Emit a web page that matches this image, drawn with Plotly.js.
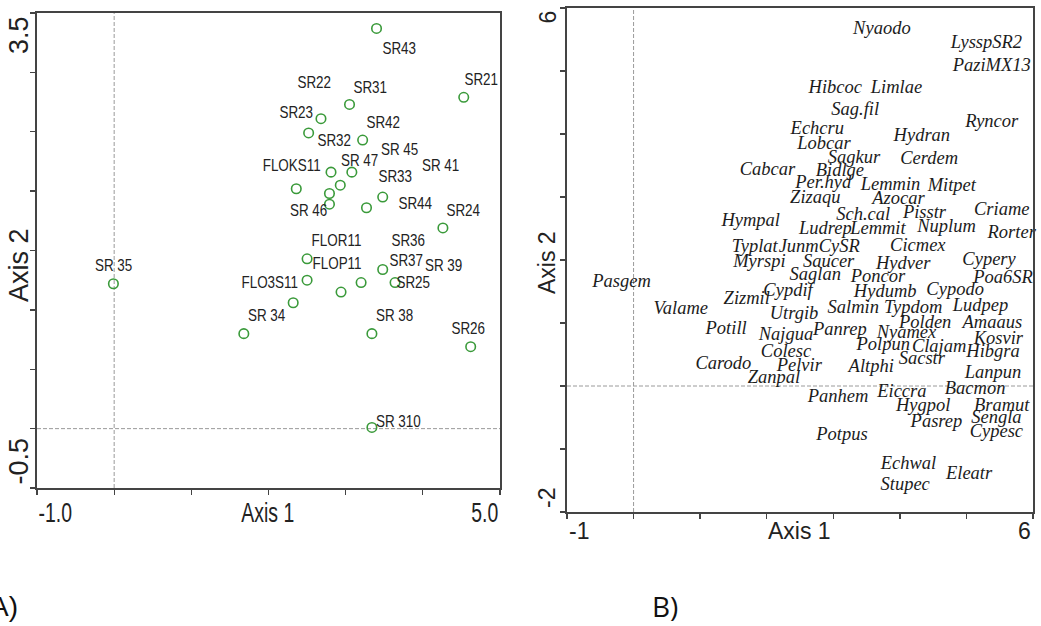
<!DOCTYPE html>
<html>
<head>
<meta charset="utf-8">
<script src="https://cdn.plot.ly/plotly-3.0.1.min.js"></script>
<style>
  html, body { margin: 0; padding: 0; background: #ffffff; }
  #chart { width: 1041px; height: 626px; }
</style>
</head>
<body>
<div id="chart"></div>
<script>
// ---- A) site scores on ordination axes 1 and 2 ----
const siteNames = ['SR43', 'SR21', 'SR31', 'SR22', 'SR23', 'SR42', 'SR32', 'SR 45', 'FLOKS11',
  'SR 47', 'SR 41', 'SR 46', 'SR33', 'SR44', 'SR24', 'FLOR11', 'SR37', 'FLOP11', 'SR36',
  'SR25', 'SR 39', 'FLO3S11', 'SR 34', 'SR 38', 'SR26', 'SR 310', 'SR 35'];
const siteAxis1 = [3.40, 4.53, 3.05, 2.68, 2.52, 3.22, 2.81, 3.08, 2.36,
  2.93, 2.79, 2.79, 3.48, 3.27, 4.26, 2.50, 3.48, 2.50, 3.20,
  3.64, 2.94, 2.32, 1.68, 3.34, 4.62, 3.34, -0.01];
const siteAxis2 = [3.37, 2.79, 2.73, 2.61, 2.49, 2.43, 2.16, 2.16, 2.02,
  2.05, 1.98, 1.89, 1.95, 1.86, 1.69, 1.43, 1.34, 1.25, 1.23,
  1.23, 1.15, 1.06, 0.80, 0.80, 0.69, 0.01, 1.22];

// ---- B) species scores on ordination axes 1 and 2 ----
const speciesNames = ['Nyaodo', 'LysspSR2', 'PaziMX13', 'Hibcoc', 'Limlae', 'Sag.fil', 'Ryncor',
  'Echcru', 'Hydran', 'Lobcar', 'Sagkur', 'Cerdem', 'Cabcar', 'Bidlge', 'Per.hyd', 'Lemmin',
  'Mitpet', 'Zizaqu', 'Azocar', 'Sch.cal', 'Pisstr', 'Criame', 'Hympal', 'Ludrep', 'Lemmit',
  'Nuplum', 'Rorter', 'Typlat', 'Junm', 'CySR', 'Cicmex', 'Myrspi', 'Saucer', 'Hydver',
  'Cypery', 'Pasgem', 'Saglan', 'Poncor', 'Poa6SR', 'Cypdif', 'Hydumb', 'Cypodo', 'Zizmil',
  'Valame', 'Salmin', 'Typdom', 'Ludpep', 'Utrgib', 'Polden', 'Amaaus', 'Potill', 'Najgua',
  'Panrep', 'Nyamex', 'Kosvir', 'Polpun', 'Clajam', 'Hibgra', 'Colesc', 'Sacstr', 'Carodo',
  'Pelvir', 'Altphi', 'Lanpun', 'Zanpal', 'Bacmon', 'Eiccra', 'Panhem', 'Hygpol', 'Bramut',
  'Sengla', 'Pasrep', 'Cypesc', 'Potpus', 'Echwal', 'Eleatr', 'Stupec'];
const speciesAxis1 = [3.73, 5.30, 5.38, 3.03, 3.95, 3.33, 5.38,
  2.76, 4.33, 2.86, 3.31, 4.44, 2.01, 3.10, 2.85, 3.86,
  4.78, 2.73, 3.98, 3.45, 4.37, 5.53, 1.76, 2.88, 3.67,
  4.70, 5.68, 1.82, 2.48, 3.09, 4.27, 1.89, 2.93, 4.05,
  5.34, -0.18, 2.73, 3.67, 5.55, 2.32, 3.78, 4.83, 1.70,
  0.71, 3.30, 4.20, 5.21, 2.41, 4.38, 5.39, 1.39, 2.29,
  3.10, 4.10, 5.48, 3.75, 4.59, 5.40, 2.29, 4.33, 1.35,
  2.49, 3.57, 5.40, 2.11, 5.13, 4.03, 3.07, 4.35, 5.53,
  5.45, 4.55, 5.45, 3.13, 4.13, 5.04, 4.08];
const speciesAxis2 = [5.66, 5.44, 5.07, 4.73, 4.73, 4.38, 4.19,
  4.07, 3.96, 3.83, 3.61, 3.60, 3.42, 3.40, 3.22, 3.19,
  3.17, 2.98, 2.96, 2.71, 2.74, 2.78, 2.62, 2.49, 2.48,
  2.51, 2.43, 2.20, 2.20, 2.20, 2.22, 1.96, 1.97, 1.93,
  1.99, 1.64, 1.76, 1.72, 1.71, 1.50, 1.48, 1.51, 1.37,
  1.22, 1.23, 1.23, 1.27, 1.13, 0.99, 1.00, 0.90, 0.81,
  0.88, 0.84, 0.74, 0.64, 0.62, 0.53, 0.53, 0.43, 0.34,
  0.31, 0.30, 0.20, 0.12, -0.05, -0.10, -0.18, -0.32, -0.32,
  -0.51, -0.57, -0.74, -0.79, -1.25, -1.41, -1.57];

// Axis end labels
const siteAxis1Ends = ['-1.0', '5.0'];
const siteAxis2Ends = ['-0.5', '3.5'];
const speciesAxis1Ends = ['-1', '6'];
const speciesAxis2Ends = ['-2', '6'];

// Pixel offsets of each site label from its marker (right, down)
const siteLabelShift = [[23, 20], [18, -18], [21, -17], [-6, -36], [-12, -20], [21, -18], [3, -32],
  [48, -23], [-5, -23], [19, -25], [111, -28], [-21, 6], [13, -21], [49, -4], [21, -17],
  [29, -18], [24, -9], [30, -17], [47, -42], [18, 0], [102, -27], [-23, -20], [23, -18],
  [23, -18], [-2, -18], [27, -6], [0, -18]];

const W = 1041, H = 626;
const px = v => v / W;
const py = v => 1 - v / H;

const sans = 'Liberation Sans, Arial, sans-serif';
const serif = 'Liberation Serif, Times New Roman, serif';
const ink = '#222222';
const frame = '#444444';

const traces = [
  {
    type: 'scatter', mode: 'markers', x: siteAxis1, y: siteAxis2,
    xaxis: 'x', yaxis: 'y', text: siteNames, hoverinfo: 'text', cliponaxis: false,
    marker: { symbol: 'circle-open', size: 9.5, color: '#3a9a3a', line: { width: 1.6, color: '#3a9a3a' } }
  },
  {
    type: 'scatter', mode: 'text', x: speciesAxis1, y: speciesAxis2, text: speciesNames,
    xaxis: 'x2', yaxis: 'y2', textposition: 'middle center', cliponaxis: false,
    textfont: { family: serif, style: 'italic', size: 18.5, color: '#1c1c1c' }, hoverinfo: 'text'
  }
];

const annotations = [];
const squeeze = {};   // annotation index -> horizontal squeeze factor

siteNames.forEach((name, i) => {
  squeeze[annotations.length] = 0.79;
  annotations.push({
    xref: 'x', yref: 'y', x: siteAxis1[i], y: siteAxis2[i], text: name, showarrow: false,
    xshift: siteLabelShift[i][0], yshift: -siteLabelShift[i][1],
    font: { family: sans, size: 17, color: ink }
  });
});

function label(text, x, y, opts, factor) {
  if (factor) squeeze[annotations.length] = factor;
  annotations.push(Object.assign({
    xref: 'paper', yref: 'paper', x: px(x), y: py(y), text: text, showarrow: false,
    xanchor: 'center', yanchor: 'middle'
  }, opts));
}
const aFont = { family: sans, size: 27, color: ink };
const bFont = { family: sans, size: 23, color: ink };

// panel A axis text
label(siteAxis1Ends[0], 55, 513, { font: aFont }, 0.72);
label(siteAxis1Ends[1], 485, 513, { font: aFont }, 0.72);
label('Axis 1', 268, 513, { font: aFont }, 0.72);
label(siteAxis2Ends[1], 19, 14, { yanchor: 'top', textangle: -90, font: aFont });
label(siteAxis2Ends[0], 19, 487, { yanchor: 'bottom', textangle: -90, font: aFont });
label('Axis 2', 19, 265, { textangle: -90, font: aFont });

// panel B axis text
label(speciesAxis1Ends[0], 567, 531, { xanchor: 'left', font: bFont });
label(speciesAxis1Ends[1], 1033, 531, { xanchor: 'right', font: bFont });
label('Axis 1', 799, 531, { font: bFont });
label(speciesAxis2Ends[1], 547, 9, { yanchor: 'top', textangle: -90, font: bFont });
label(speciesAxis2Ends[0], 547, 510, { yanchor: 'bottom', textangle: -90, font: bFont });
label('Axis 2', 547, 263, { textangle: -90, font: bFont });

// panel letters
label('A)', 4, 606, { font: { family: sans, size: 28, color: '#111' } });
label('B)', 665, 606, { font: { family: 'Open Sans, Noto Sans, sans-serif', size: 28, color: '#111' } });

function axis(domain, range, dtick, anchor) {
  return {
    domain: domain, range: range, dtick: dtick, tick0: range[0], anchor: anchor,
    showline: true, mirror: true, linecolor: frame, linewidth: 1.6,
    ticks: 'outside', ticklen: 5, tickwidth: 1.3, tickcolor: frame,
    showticklabels: false, showgrid: false, zeroline: false, fixedrange: true
  };
}

const zeroLine = { color: '#9a9a9a', width: 1, dash: '4px,2px' };
const shapes = [
  { type: 'line', xref: 'x', yref: 'y', x0: 0, x1: 0, y0: -0.5, y1: 3.5, line: zeroLine, layer: 'below' },
  { type: 'line', xref: 'x', yref: 'y', x0: -1, x1: 5, y0: 0, y1: 0, line: zeroLine, layer: 'below' },
  { type: 'line', xref: 'x2', yref: 'y2', x0: 0, x1: 0, y0: -2, y1: 6, line: zeroLine, layer: 'below' },
  { type: 'line', xref: 'x2', yref: 'y2', x0: -1, x1: 6, y0: 0, y1: 0, line: zeroLine, layer: 'below' }
];

const layout = {
  width: W, height: H, margin: { l: 0, r: 0, t: 0, b: 0 },
  paper_bgcolor: '#ffffff', plot_bgcolor: '#ffffff', showlegend: false,
  xaxis: axis([px(37), px(500)], [-1, 5], 1, 'y'),
  yaxis: axis([py(488), py(13)], [-0.5, 3.5], 0.5, 'x'),
  xaxis2: axis([px(567), px(1033)], [-1, 6], 1, 'y2'),
  yaxis2: axis([py(512), py(8)], [-2, 6], 1, 'x2'),
  annotations: annotations,
  shapes: shapes
};

// Panel A lettering is set in a condensed style: squeeze each horizontal text run.
function condenseText(gd) {
  gd.querySelectorAll('g.annotation').forEach(g => {
    const f = squeeze[+g.getAttribute('data-index')];
    if (!f) return;
    const t = g.querySelector('text.annotation-text');
    if (!t) return;
    const w = t.getComputedTextLength();
    t.setAttribute('textLength', (w * f).toFixed(1));
    t.setAttribute('lengthAdjust', 'spacingAndGlyphs');
  });
}

Plotly.newPlot('chart', traces, layout, { staticPlot: true, displayModeBar: false })
  .then(condenseText);
</script>
</body>
</html>
